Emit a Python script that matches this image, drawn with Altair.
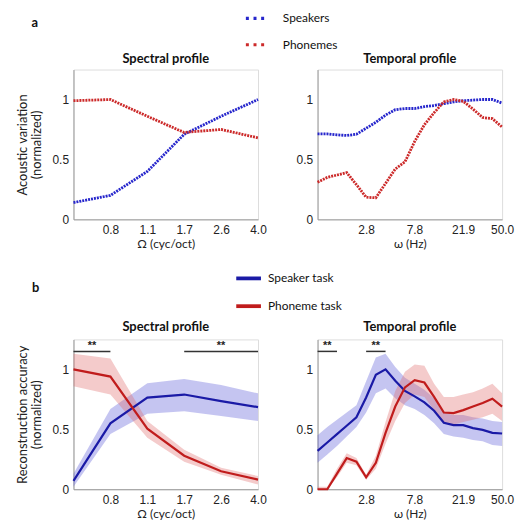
import altair as alt
import pandas as pd

# ---------------- data ----------------
spec_freq = [0.5, 0.758, 1.149, 1.741, 2.639, 4.0]
temp_freq = [1.0, 1.229, 1.510, 1.855, 2.279, 2.800, 3.440, 4.226, 5.192, 6.379,
             7.837, 9.629, 11.83, 14.54, 17.86, 21.94, 26.96, 33.12, 40.69, 50.0]
spec_ticks = [0.758, 1.149, 1.741, 2.639, 4.0]
temp_ticks = [2.8, 7.8, 21.9, 50.0]

# panel a : acoustic variation
a_spec_speakers = [0.14, 0.20, 0.40, 0.71, 0.86, 1.0]
a_spec_phonemes = [0.99, 1.0, 0.86, 0.725, 0.75, 0.68]
a_temp_speakers = [0.713, 0.713, 0.705, 0.70, 0.71, 0.76, 0.81, 0.87, 0.915, 0.925,
                   0.925, 0.94, 0.95, 0.965, 0.98, 0.99, 0.995, 1.0, 1.0, 0.97]
a_temp_phonemes = [0.31, 0.35, 0.37, 0.39, 0.29, 0.185, 0.18, 0.30, 0.42, 0.48,
                   0.65, 0.79, 0.89, 0.98, 1.0, 0.985, 0.92, 0.85, 0.84, 0.77]

# panel b : reconstruction accuracy (mean, upper, lower)
b_spec_spk = [0.07, 0.55, 0.765, 0.79, 0.735, 0.685]
b_spec_spk_hi = [0.13, 0.67, 0.885, 0.92, 0.87, 0.80]
b_spec_spk_lo = [0.02, 0.46, 0.63, 0.65, 0.61, 0.57]
b_spec_pho = [1.0, 0.94, 0.505, 0.28, 0.15, 0.08]
b_spec_pho_hi = [1.13, 1.09, 0.57, 0.33, 0.18, 0.11]
b_spec_pho_lo = [0.86, 0.79, 0.43, 0.23, 0.12, 0.04]

b_temp_spk = [0.32, 0.39, 0.46, 0.53, 0.60, 0.765, 0.955, 1.0, 0.905, 0.82,
              0.775, 0.725, 0.655, 0.555, 0.535, 0.535, 0.51, 0.495, 0.47, 0.465]
b_temp_spk_hi = [0.45, 0.52, 0.58, 0.64, 0.70, 0.90, 1.10, 1.13, 1.02, 0.93,
                 0.88, 0.83, 0.76, 0.64, 0.62, 0.62, 0.60, 0.59, 0.57, 0.56]
b_temp_spk_lo = [0.22, 0.29, 0.36, 0.44, 0.52, 0.64, 0.80, 0.84, 0.76, 0.70,
                 0.67, 0.62, 0.55, 0.46, 0.44, 0.43, 0.41, 0.40, 0.37, 0.36]
b_temp_pho = [0.0, 0.0, 0.13, 0.26, 0.23, 0.10, 0.22, 0.47, 0.69, 0.85,
              0.91, 0.89, 0.77, 0.64, 0.635, 0.66, 0.69, 0.72, 0.755, 0.69]
b_temp_pho_hi = [0.02, 0.02, 0.17, 0.30, 0.26, 0.12, 0.28, 0.56, 0.82, 0.98,
                 1.04, 1.03, 0.88, 0.77, 0.77, 0.79, 0.81, 0.84, 0.88, 0.80]
b_temp_pho_lo = [0.0, 0.0, 0.10, 0.22, 0.20, 0.08, 0.17, 0.38, 0.57, 0.72,
                 0.79, 0.77, 0.66, 0.55, 0.54, 0.56, 0.58, 0.60, 0.63, 0.57]

# significance bars (start, end in x units)
sig_spec_start = [0.5, 1.741]
sig_spec_end = [0.758, 4.0]
sig_temp_start = [1.0, 2.80]
sig_temp_end = [1.51, 4.226]
sig_level = 1.15

A_SERIES = ["Speakers", "Phonemes"]
B_SERIES = ["Speaker task", "Phoneme task"]
BAND_KEYS = ["speaker band", "phoneme band"]

# ---------------- style ----------------
BLUE_A, RED_A = "#2626cc", "#cc2a2a"
BLUE_B, RED_B = "#1a1aa6", "#c01c1c"
BAND_B, BAND_R = "#5a5ad8", "#e06a6a"
W, H = 186, 151
TXT = "Lato"
NUM = "Liberation Sans"
YDOM = [0, 1.25]


def xaxis(ticks, title):
    return alt.Axis(values=ticks, format=".1f", title=title, ticks=False,
                    labelFont=NUM, labelFontSize=12, labelColor="#222",
                    labelPadding=5, labelFlush=False, labelOverlap=False,
                    titleFont=TXT, titleFontSize=12,
                    titleFontWeight="normal", titleColor="#222", titlePadding=3,
                    domainColor="#999", grid=False)


def yaxis(title):
    kw = dict(values=[0, 0.5, 1], format="~g", ticks=False, labelFont=NUM,
              labelFontSize=12, labelColor="#222", labelPadding=5,
              labelFlush=False, domainColor="#999", grid=False)
    if title:
        return alt.Axis(title=title, titleFont=TXT, titleFontSize=13,
                        titleFontWeight="normal", titleColor="#222",
                        titlePadding=9, titleLineHeight=14, **kw)
    return alt.Axis(title=None, **kw)


def annot(text, x, y, size=13):
    return alt.Chart(pd.DataFrame({"t": [text]})).mark_text(
        font=TXT, fontSize=size, fontWeight="bold", color="#111",
        baseline="middle", align="center").encode(
        text="t:N", x=alt.value(x), y=alt.value(y))


legend_a = alt.Legend(title=None, orient="none", legendX=172, legendY=-63,
                      symbolType="stroke", symbolStrokeWidth=3.2,
                      symbolDash=[3, 4.7], symbolSize=380,
                      labelFont=TXT, labelFontSize=12, labelColor="#111",
                      labelOffset=16, rowPadding=8.5)
legend_b = alt.Legend(title=None, orient="none", legendX=162, legendY=196,
                      symbolType="stroke", symbolStrokeWidth=3.8,
                      symbolSize=620,
                      labelFont=TXT, labelFontSize=12, labelColor="#111",
                      labelOffset=5, rowPadding=5)


def top_panel(freq, spk, pho, dom, ticks, xtitle, title, ytitle, label=None):
    n = len(freq)
    df = pd.DataFrame({
        "f": freq + freq,
        "v": spk + pho,
        "s": [A_SERIES[0]] * n + [A_SERIES[1]] * n,
        "k": ["c"] * (2 * n),
    })
    lines = alt.Chart(df).mark_line(strokeWidth=2.8).encode(
        x=alt.X("f:Q", scale=alt.Scale(type="log", domain=dom, nice=False),
                axis=xaxis(ticks, xtitle)),
        y=alt.Y("v:Q", scale=alt.Scale(domain=YDOM, nice=False), axis=yaxis(ytitle)),
        color=alt.Color("s:N", scale=alt.Scale(domain=A_SERIES, range=[BLUE_A, RED_A]),
                        legend=legend_a),
        strokeDash=alt.StrokeDash("k:N", scale=alt.Scale(domain=["c"], range=[[2, 1]]),
                                  legend=None),
        detail="s:N",
    )
    layers = [lines, annot(title, W / 2, -11)]
    if label:
        layers.append(annot(label, -39, -47))
    return alt.layer(*layers).properties(width=W, height=H)


def bottom_panel(freq, spk, spk_hi, spk_lo, pho, pho_hi, pho_lo, dom, ticks,
                 s_start, s_end, xtitle, title, ytitle, label=None):
    n = len(freq)
    df = pd.DataFrame({
        "f": freq + freq,
        "v": spk + pho,
        "hi": spk_hi + pho_hi,
        "lo": spk_lo + pho_lo,
        "s": [B_SERIES[0]] * n + [B_SERIES[1]] * n,
        "band": [BAND_KEYS[0]] * n + [BAND_KEYS[1]] * n,
        "k": ["c"] * (2 * n),
    })
    x = alt.X("f:Q", scale=alt.Scale(type="log", domain=dom, nice=False),
              axis=xaxis(ticks, xtitle))
    yscale = alt.Scale(domain=YDOM, nice=False)
    bands = alt.Chart(df).mark_area(opacity=0.35).encode(
        x=x,
        y=alt.Y("lo:Q", scale=yscale, axis=yaxis(ytitle)),
        y2="hi:Q",
        fill=alt.Fill("band:N", scale=alt.Scale(domain=BAND_KEYS, range=[BAND_B, BAND_R]),
                      legend=None),
        detail="band:N",
    )
    lines = alt.Chart(df).mark_line().encode(
        x=x,
        y=alt.Y("v:Q", scale=yscale),
        stroke=alt.Stroke("s:N", scale=alt.Scale(domain=B_SERIES, range=[BLUE_B, RED_B]),
                          legend=legend_b),
        strokeWidth=alt.StrokeWidth("k:O", scale=alt.Scale(domain=["c"], range=[2.2, 2.2]),
                                    legend=None),
        detail="s:N",
    )
    sig = pd.DataFrame({"a": s_start, "b": s_end,
                        "m": [(p * q) ** 0.5 for p, q in zip(s_start, s_end)],
                        "y": [sig_level] * len(s_start), "t": ["**"] * len(s_start)})
    bars = alt.Chart(sig).mark_rule(color="#333", strokeWidth=1.5).encode(
        x=alt.X("a:Q"), x2="b:Q", y=alt.Y("y:Q"))
    stars = alt.Chart(sig).mark_text(font=NUM, fontSize=11, fontWeight="bold",
                                     color="#222", dy=-5).encode(
        x=alt.X("m:Q"), y=alt.Y("y:Q"), text="t:N")
    layers = [bands, lines, bars, stars, annot(title, W / 2, -12)]
    if label:
        layers.append(annot(label, -38, -52))
    return alt.layer(*layers).properties(width=W, height=H)


p1 = top_panel(spec_freq, a_spec_speakers, a_spec_phonemes, [0.5, 4.0], spec_ticks,
               "Ω (cyc/oct)", "Spectral profile",
               ["Acoustic variation", "(normalized)"], label="a")
p2 = top_panel(temp_freq, a_temp_speakers, a_temp_phonemes, [1.0, 50.0], temp_ticks,
               "ω (Hz)", "Temporal profile", None)
p3 = bottom_panel(spec_freq, b_spec_spk, b_spec_spk_hi, b_spec_spk_lo,
                  b_spec_pho, b_spec_pho_hi, b_spec_pho_lo, [0.5, 4.0], spec_ticks,
                  sig_spec_start, sig_spec_end, "Ω (cyc/oct)", "Spectral profile",
                  ["Reconstruction accuracy", "(normalized)"], label="b")
p4 = bottom_panel(temp_freq, b_temp_spk, b_temp_spk_hi, b_temp_spk_lo,
                  b_temp_pho, b_temp_pho_hi, b_temp_pho_lo, [1.0, 50.0], temp_ticks,
                  sig_temp_start, sig_temp_end, "ω (Hz)", "Temporal profile", None)

chart = alt.concat(p1, p2, p3, p4, columns=2).properties(
    spacing={"row": 121, "column": 60},
    bounds="flush",
    padding={"left": 7, "top": -3, "right": 0, "bottom": 0},
).configure_view(stroke="#999", strokeWidth=1).configure(background="white")

chart.save("out.html", embed_options={"renderer": "svg", "actions": False})
